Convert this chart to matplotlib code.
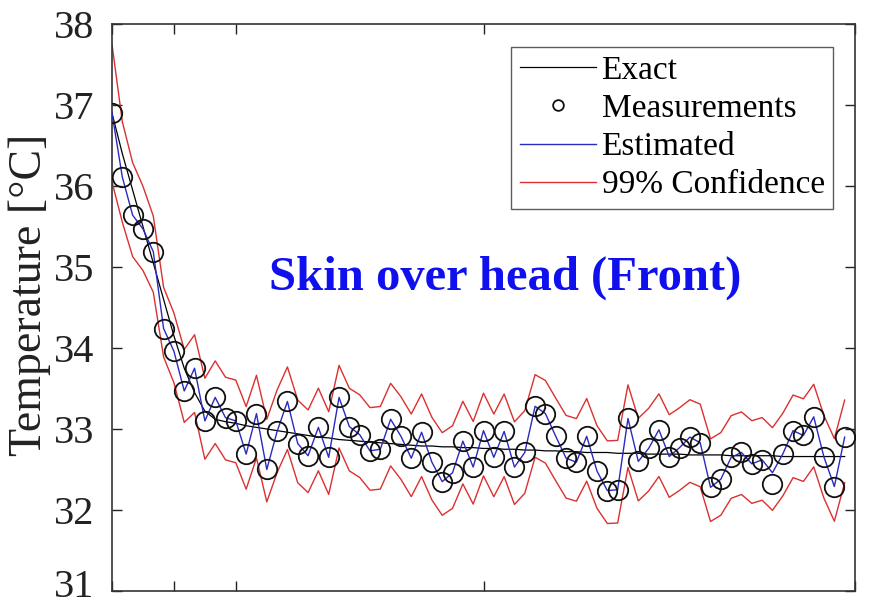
import numpy as np
import matplotlib
matplotlib.use("Agg")
import matplotlib.pyplot as plt
from matplotlib.transforms import ScaledTranslation

# ---- data ----
dt_min = 50.0 / 60.0
n_pts = 72
time_min = np.arange(n_pts) * dt_min

measurements = [36.90, 36.11, 35.64, 35.47, 35.19, 34.24, 33.96, 33.47, 33.75, 33.10,
                33.39, 33.14, 33.10, 32.69, 33.19, 32.50, 32.97, 33.34, 32.82, 32.67,
                33.02, 32.65, 33.39, 33.03, 32.93, 32.73, 32.75, 33.12, 32.91, 32.64,
                32.96, 32.59, 32.35, 32.46, 32.85, 32.53, 32.98, 32.65, 32.97, 32.53,
                32.71, 33.28, 33.19, 32.91, 32.64, 32.59, 32.91, 32.48, 32.24, 32.25,
                33.13, 32.60, 32.76, 32.99, 32.66, 32.77, 32.90, 32.83, 32.28, 32.38,
                32.65, 32.71, 32.57, 32.62, 32.32, 32.69, 32.98, 32.92, 33.15, 32.65,
                32.29, 32.90]

estimated = [36.90, 36.11, 35.64, 35.47, 35.19, 34.24, 33.96, 33.47, 33.75, 33.10,
             33.39, 33.14, 33.10, 32.69, 33.19, 32.50, 32.97, 33.34, 32.82, 32.67,
             33.02, 32.65, 33.39, 33.03, 32.93, 32.73, 32.75, 33.12, 32.91, 32.64,
             32.96, 32.59, 32.35, 32.46, 32.85, 32.53, 32.98, 32.65, 32.97, 32.53,
             32.71, 33.28, 33.19, 32.91, 32.64, 32.59, 32.91, 32.48, 32.24, 32.25,
             33.13, 32.60, 32.76, 32.99, 32.66, 32.77, 32.90, 32.83, 32.28, 32.38,
             32.65, 32.71, 32.57, 32.62, 32.46, 32.69, 32.98, 32.92, 33.15, 32.65,
             32.29, 32.90]

exact = [36.90, 36.40, 35.95, 35.50, 35.05, 34.60, 34.15, 33.75, 33.45, 33.22,
         33.12, 33.09, 33.07, 33.04, 33.02, 33.00, 32.98, 32.96, 32.94, 32.92,
         32.90, 32.89, 32.87, 32.86, 32.85, 32.84, 32.83, 32.82, 32.81, 32.80,
         32.79, 32.79, 32.78, 32.78, 32.77, 32.77, 32.76, 32.76, 32.75, 32.75,
         32.74, 32.74, 32.73, 32.73, 32.72, 32.72, 32.71, 32.71, 32.71, 32.70,
         32.70, 32.70, 32.69, 32.69, 32.69, 32.69, 32.68, 32.68, 32.68, 32.68,
         32.67, 32.67, 32.67, 32.67, 32.67, 32.66, 32.66, 32.66, 32.66, 32.66,
         32.66, 32.66]

# half width of the 99% band
half_width = [0.85, 0.62, 0.58, 0.52, 0.47, 0.43, 0.43, 0.45, 0.48, 0.50,
              0.51, 0.51, 0.51, 0.51, 0.51, 0.51, 0.51, 0.51, 0.51, 0.51,
              0.51, 0.51, 0.51, 0.51, 0.51, 0.51, 0.51, 0.51, 0.51, 0.51,
              0.51, 0.51, 0.51, 0.51, 0.51, 0.51, 0.51, 0.51, 0.51, 0.51,
              0.51, 0.51, 0.51, 0.51, 0.51, 0.51, 0.51, 0.51, 0.51, 0.51,
              0.51, 0.51, 0.51, 0.51, 0.51, 0.51, 0.51, 0.51, 0.51, 0.51,
              0.51, 0.51, 0.51, 0.51, 0.51, 0.51, 0.51, 0.51, 0.51, 0.51,
              0.51, 0.51]
# the band centre sits slightly toward the exact curve
band_pull = 0.22

y_ticks = [31, 32, 33, 34, 35, 36, 37, 38]
x_ticks = [0, 5, 10, 30, 60]

# ---- figure ----
plt.rcParams['font.family'] = ['Liberation Serif', 'DejaVu Serif']

fig = plt.figure(figsize=(8.76, 6.10), dpi=100)
ax = fig.add_axes([112/876, 19/610, (855-112)/876, (591-24)/610])

est = np.array(estimated)
ex = np.array(exact)
hw = np.array(half_width)
centre = est + band_pull * (ex - est)

ax.plot(time_min, ex, color='black', lw=0.9, label='Exact', zorder=3)
ax.plot(time_min, measurements, 'o', mfc='none', mec='#111111', ms=14, mew=1.3,
        label='Measurements', zorder=4)
ax.plot(time_min, est, color='#2a2ac0', lw=1.0, label='Estimated', zorder=3)
ax.plot(time_min, centre + hw, color='#dc3030', lw=1.0, label='99% Confidence', zorder=2)
ax.plot(time_min, centre - hw, color='#dc3030', lw=1.0, zorder=2)

ax.set_xlim(0, 60)
ax.set_ylim(31, 38)
ax.set_yticks(y_ticks)
ax.set_xticks(x_ticks)
ax.set_xticklabels([])
ax.tick_params(direction='in', length=7, width=1, labelsize=29, top=True, right=True,
               colors='#222222', pad=13)
for s in ax.spines.values():
    s.set_linewidth(1.2)
    s.set_color('#333333')

# keep the bottom tick label inside the canvas
bottom_lab = ax.get_yticklabels()[0]
bottom_lab.set_transform(bottom_lab.get_transform() +
                         ScaledTranslation(0, 6/72, fig.dpi_scale_trans))

fig.text(30/876, (610-295)/610, 'Temperature [°C]', rotation=90, ha='center',
         va='center', fontsize=33, color='#222222')

leg = ax.legend(loc='upper right', bbox_to_anchor=(833/876, (610-47)/610),
                bbox_transform=fig.transFigure,
                fontsize=24, frameon=True, fancybox=False, edgecolor='#333333',
                handlelength=2.28, handletextpad=0.18, borderpad=0.25, labelspacing=0.23,
                borderaxespad=0, markerscale=0.55)
leg.get_frame().set_linewidth(1.0)

fig.text(505/876, (610-278)/610, 'Skin over head (Front)',
         ha='center', va='center', fontsize=35, fontweight='bold', color='#1010ee')

fig.savefig('out.png', dpi=100)
